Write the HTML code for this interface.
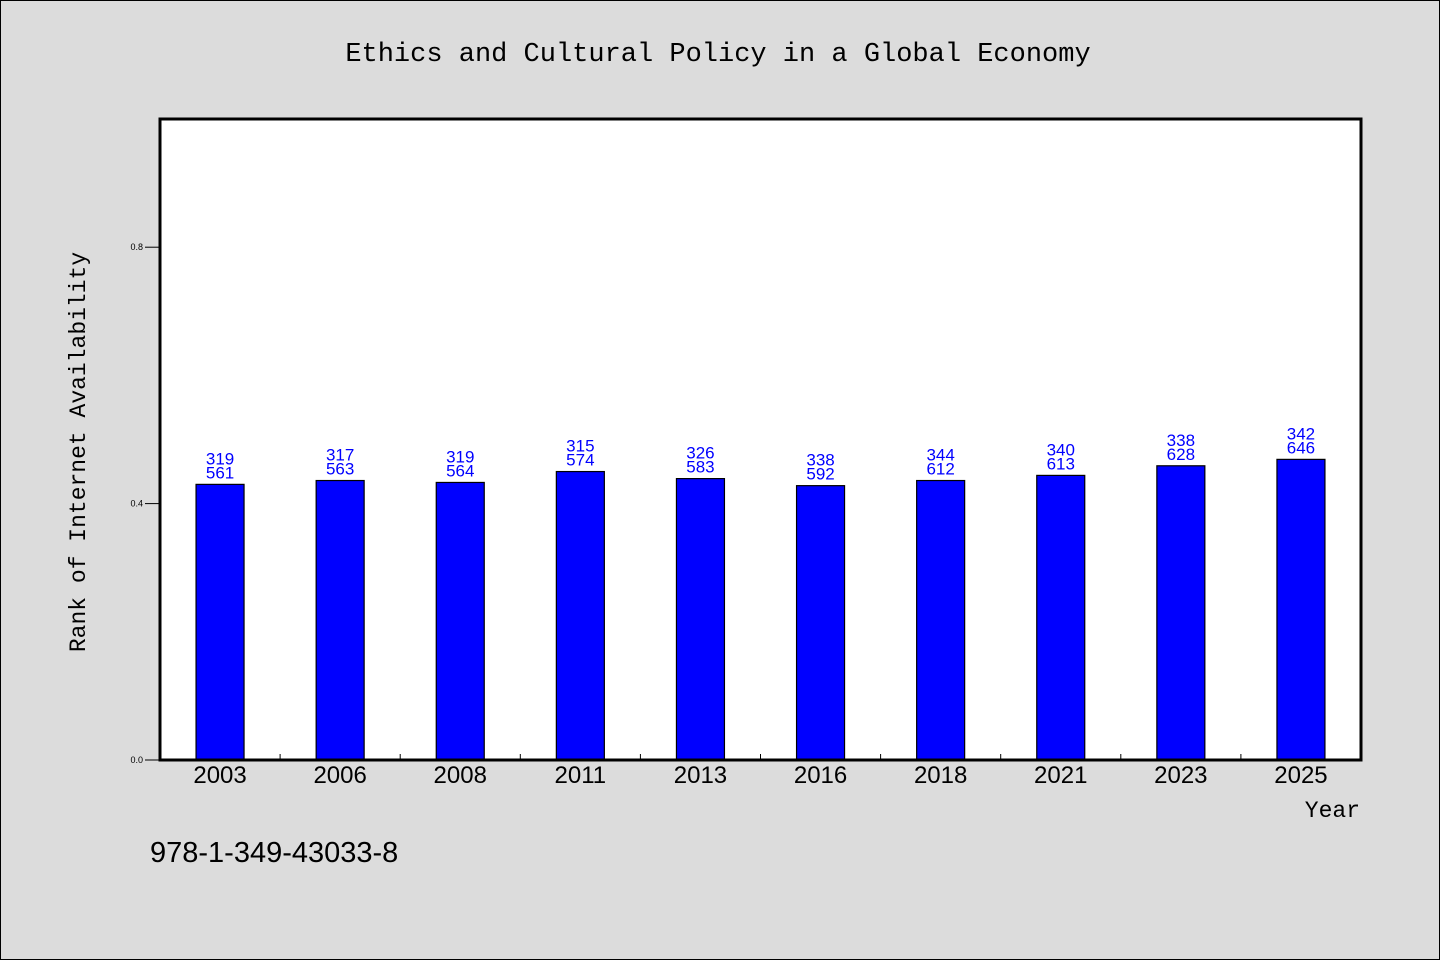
<!DOCTYPE html>
<html><head><meta charset="utf-8"><style>
body{margin:0;background:#dcdcdc;}
svg{display:block;font-family:"Liberation Mono","DejaVu Sans Mono",monospace;}
</style></head><body>
<svg width="1440" height="960">
<rect x="0.5" y="0.5" width="1439" height="959" fill="#dcdcdc" stroke="#000"/>
<text x="718" y="61" text-anchor="middle" font-size="27">Ethics and Cultural Policy in a Global Economy</text>
<rect x="160" y="119" width="1201" height="641" fill="#fff"/>
<g id="bars"></g>
<rect x="160" y="119" width="1201" height="641" fill="none" stroke="#000" stroke-width="3"/>
<text transform="translate(85,452) rotate(-90)" text-anchor="middle" font-size="23">Rank of Internet Availability</text>
<text x="1360" y="817" text-anchor="end" font-size="23">Year</text>
<text x="150" y="862" font-family="Liberation Sans, sans-serif" font-size="29">978-1-349-43033-8</text>
</svg>
<script>
const categories=["2003","2006","2008","2011","2013","2016","2018","2021","2023","2025"];
const values=[0.430,0.436,0.433,0.450,0.439,0.428,0.436,0.444,0.459,0.469];
const labelTop=["319","317","319","315","326","338","344","340","338","342"];
const labelBottom=["561","563","564","574","583","592","612","613","628","646"];
const yTicks=[0.0,0.4,0.8];
const yTickLabels=["0.0","0.4","0.8"];
const NS="http://www.w3.org/2000/svg";
const x0=160,x1=1361,yBase=760,yTop=119,yMax=1.0;
const step=(x1-x0)/categories.length;
const y=v=>yBase-(v/yMax)*(yBase-yTop);
const xc=i=>x0+step*(i+0.5);
const g=document.getElementById('bars');
function mk(t,a){const e=document.createElementNS(NS,t);for(const k in a)e.setAttribute(k,a[k]);return e;}
categories.forEach((c,i)=>{
  const r=mk('rect',{x:xc(i)-24,y:y(values[i]),width:48,height:yBase-y(values[i]),fill:'#0000ff',stroke:'#000','stroke-width':1.2});
  
  
  g.appendChild(r);
  const t1=mk('text',{x:xc(i),y:y(values[i])-20,'text-anchor':'middle','font-size':17,fill:'#0000ff','font-family':'Liberation Sans, sans-serif'});
  t1.textContent=labelTop[i];
  
  
  g.appendChild(t1);
  const t2=mk('text',{x:xc(i),y:y(values[i])-6,'text-anchor':'middle','font-size':17,fill:'#0000ff','font-family':'Liberation Sans, sans-serif'});
  t2.textContent=labelBottom[i];
  
  
  g.appendChild(t2);
  const xl=mk('text',{x:xc(i),y:783,'text-anchor':'middle','font-size':24,'font-family':'Liberation Sans, sans-serif'});
  xl.textContent=c;
  
  
  g.appendChild(xl);
  if(i>0){
    const tk=mk('line',{x1:x0+step*i,x2:x0+step*i,y1:yBase,y2:yBase-6,stroke:'#000'});
    
    
    g.appendChild(tk);
  }
});
yTicks.forEach((v,i)=>{
  const tk=mk('line',{x1:145,x2:160,y1:y(v),y2:y(v),stroke:'#000'});
  
  
  g.appendChild(tk);
  const t=mk('text',{x:143,y:y(v)+3,'text-anchor':'end','font-size':9,'font-family':'Liberation Sans, sans-serif'});
  t.textContent=yTickLabels[i];
  
  
  g.appendChild(t);
});
</script>
</body></html>
